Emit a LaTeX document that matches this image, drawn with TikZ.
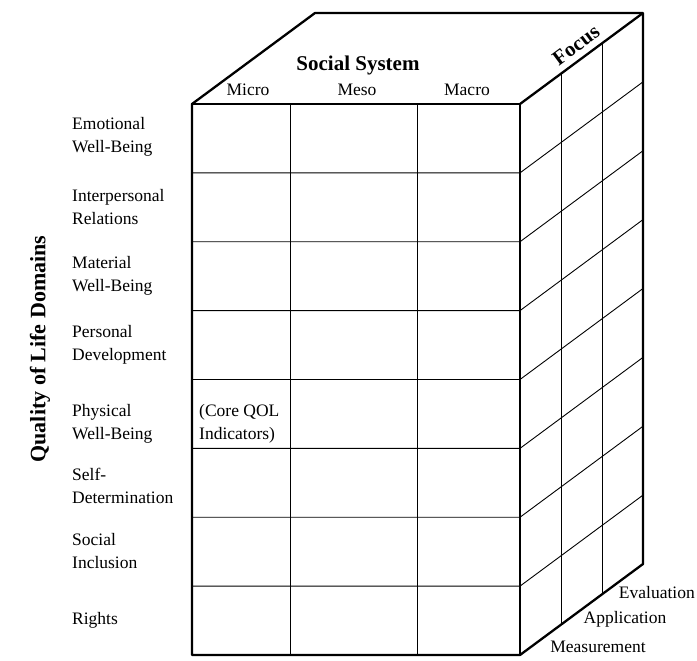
\documentclass[tikz,border=0pt]{standalone}
\usepackage{fontspec}
\setmainfont{Liberation Serif}
\usetikzlibrary{calc}
\begin{document}
\begin{tikzpicture}[x=1pt,y=-1pt,
  outer/.style={line width=2.3pt, line join=round},
  inner/.style={line width=0.9pt},
  lab/.style={font=\fontsize{17.5}{23}\selectfont, align=left, anchor=west, inner sep=0pt},
  colhead/.style={font=\fontsize{17.5}{23}\selectfont, inner sep=0pt},
  head/.style={font=\fontsize{21}{25}\selectfont\bfseries, inner sep=0pt}]
\useasboundingbox (0,0) rectangle (697,661);
% cube corners
\coordinate (A) at (192,104);
\coordinate (B) at (520,104);
\coordinate (C) at (520,655);
\coordinate (D) at (192,655);
\coordinate (E) at (315,13);
\coordinate (F) at (643,13);
\coordinate (G) at (643,564);
% inner grid: columns
\foreach \x in {290,417} \draw[inner] (\x,104) -- (\x,655);
% rows on front face continuing over right face
\foreach \i in {1,...,7}
  \draw[inner] (192,104+\i*68.875) -- (520,104+\i*68.875) -- ++(123,-91);
% focus slices on right face
\draw[inner] ($(B)!1/3!(F)$) -- ($(C)!1/3!(G)$);
\draw[inner] ($(B)!2/3!(F)$) -- ($(C)!2/3!(G)$);
% outline
\draw[outer] (D) -- (A) -- (E) -- (F) -- (G) -- (C) -- cycle;
\draw[outer] (A) -- (B) -- (C);
\draw[outer] (B) -- (F);
% headings
\node[head] (ss) at (358,65) {Social System};
\node[colhead] (micro) at (248,90) {Micro};
\node[colhead] (meso) at (357,90) {Meso};
\node[colhead] (macro) at (467,90) {Macro};
\node[head, rotate=36.5] (focus) at (576,45) {Focus};
\node[head, rotate=90, font=\fontsize{22}{26}\selectfont\bfseries] (qol) at (40,349) {Quality of Life Domains};
% row labels
\node[lab] (r1) at (72,137) {Emotional\\Well-Being};
\node[lab] (r2) at (72,207) {Interpersonal\\Relations};
\node[lab] (r3) at (72,276) {Material\\Well-Being};
\node[lab] (r4) at (72,345) {Personal\\Development};
\node[lab] (r5) at (72,424) {Physical\\Well-Being};
\node[lab] (r6) at (72,486) {Self-\\Determination};
\node[lab] (r7) at (72,551) {Social\\Inclusion};
\node[lab] (r8) at (72,620) {Rights};
\node[lab] (core) at (199,424) {(Core QOL\\Indicators)};
% focus labels
\node[colhead, anchor=east] (ev) at (695,593) {Evaluation};
\node[colhead] (ap) at (625,619) {Application};
\node[colhead] (me) at (598,647) {Measurement};
\end{tikzpicture}
\end{document}
